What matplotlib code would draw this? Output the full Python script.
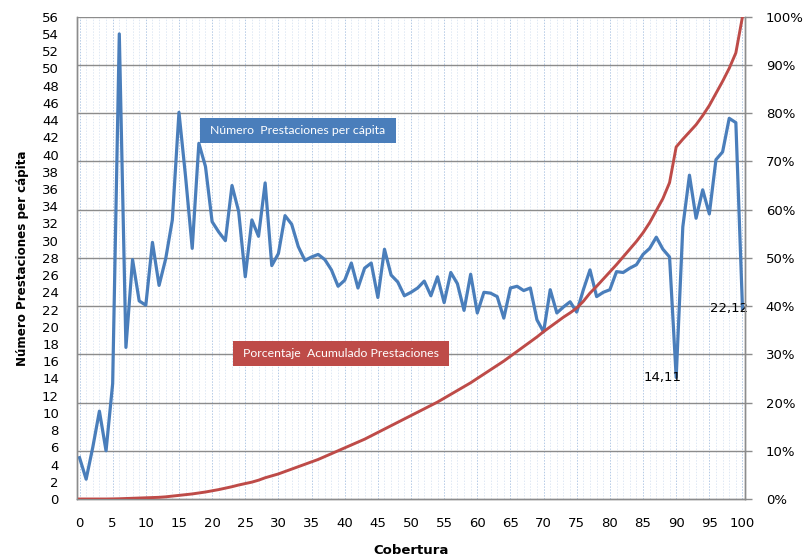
import matplotlib
matplotlib.use("Agg")
import matplotlib.pyplot as plt
from matplotlib.patches import Rectangle
from matplotlib.ticker import FuncFormatter, MultipleLocator
import numpy as np

cobertura = np.arange(0, 101)

prestaciones_per_capita = [
    4.8, 2.3, 6.0, 10.2, 5.6, 13.4, 54.0, 17.6, 27.8, 23.0,
    22.5, 29.8, 24.8, 27.9, 32.4, 44.9, 37.4, 29.1, 41.3, 38.6,
    32.2, 31.0, 30.0, 36.4, 33.4, 25.8, 32.4, 30.5, 36.7, 27.1,
    28.5, 32.9, 31.9, 29.3, 27.7, 28.1, 28.4, 27.8, 26.6, 24.7,
    25.4, 27.4, 24.5, 26.8, 27.4, 23.4, 29.0, 26.0, 25.2, 23.6,
    24.0, 24.5, 25.3, 23.6, 25.8, 22.8, 26.3, 25.0, 21.9, 26.1,
    21.6, 24.0, 23.9, 23.5, 21.0, 24.5, 24.7, 24.2, 24.5, 20.8,
    19.4, 24.3, 21.6, 22.3, 22.9, 21.7, 24.3, 26.6, 23.5, 24.0,
    24.3, 26.4, 26.3, 26.8, 27.2, 28.4, 29.1, 30.4, 29.0, 28.1,
    14.11, 31.6, 37.6, 32.6, 35.9, 33.1, 39.4, 40.3, 44.2, 43.7,
    22.12,
]

porcentaje_acumulado = [
    0.0, 0.0, 0.0, 0.0, 0.0, 0.02, 0.05, 0.1, 0.15, 0.2,
    0.25, 0.3, 0.35, 0.45, 0.6, 0.75, 0.9, 1.05, 1.25, 1.45,
    1.7, 1.95, 2.25, 2.55, 2.9, 3.2, 3.5, 3.9, 4.4, 4.8,
    5.2, 5.7, 6.2, 6.7, 7.2, 7.7, 8.2, 8.8, 9.4, 10.0,
    10.6, 11.2, 11.8, 12.4, 13.1, 13.8, 14.5, 15.2, 15.9, 16.6,
    17.3, 18.0, 18.7, 19.4, 20.1, 20.9, 21.7, 22.5, 23.3, 24.1,
    25.0, 25.9, 26.8, 27.7, 28.6, 29.6, 30.6, 31.6, 32.6, 33.6,
    34.7, 35.7, 36.7, 37.7, 38.6, 39.6, 41.0, 42.7, 44.1, 45.6,
    47.1, 48.6, 50.2, 51.8, 53.4, 55.2, 57.3, 59.8, 62.3, 65.6,
    73.0, 74.6, 76.1, 77.6, 79.5, 81.6, 84.1, 86.6, 89.3, 92.5,
    100.0,
]

etiquetas_datos = {90: "14,11", 100: "22,12"}

W, H = 808, 560
fig = plt.figure(figsize=(W / 100, H / 100), dpi=100)
L, R, T, B = 77, 745, 16.7, 499
ax = fig.add_axes([L / W, (H - B) / H, (R - L) / W, (B - T) / H])
ax2 = ax.twinx()

BLUE = "#4a7ebb"
RED = "#be4b48"
GRID = "#8c8c8c"
SPINE = "#8c8c8c"

ax.set_xlim(-0.38, 100.38)
ax.set_ylim(0, 56)
ax2.set_ylim(0, 1)

# vertical grid lines (minor every 1, major every 5)
ax.xaxis.set_major_locator(MultipleLocator(5))
ax.xaxis.set_minor_locator(MultipleLocator(1))
ax.grid(which="minor", axis="x", color="#dfe8f4", linestyle=(0, (1.5, 1.5)), linewidth=0.7)
ax.grid(which="major", axis="x", color="#b4cae6", linestyle=(0, (1.5, 1.5)), linewidth=0.7)
ax.set_axisbelow(True)

# horizontal grid lines at the secondary-axis 10% steps, drawn on primary axes
for v in np.arange(0.1, 1.01, 0.1):
    ax.axhline(v * 56, color=GRID, linewidth=1.0, zorder=1.5)

ax.plot(cobertura, prestaciones_per_capita, color=BLUE, linewidth=2.3, zorder=3)
ax2.plot(cobertura, np.array(porcentaje_acumulado) / 100.0, color=RED, linewidth=2.1,
         zorder=3)

ax.yaxis.set_major_locator(MultipleLocator(2))
ax2.yaxis.set_major_locator(MultipleLocator(0.1))
ax2.yaxis.set_major_formatter(FuncFormatter(lambda v, p: f"{int(round(v * 100))}%"))

ax.tick_params(axis="x", which="both", length=0, pad=13, labelsize=9.5, colors="black")
ax.tick_params(axis="y", length=0, pad=13, labelsize=9.5)
ax2.tick_params(axis="y", length=5, width=1, color=GRID, pad=10, labelsize=9.5,
                direction="out")

for a in (ax, ax2):
    for s in a.spines.values():
        s.set_color(SPINE)
        s.set_linewidth(1.0)
ax2.spines["top"].set_visible(False)
ax.spines["top"].set_visible(False)

ax.set_xlabel("Cobertura", fontsize=9.5, fontweight="bold", labelpad=10)
ax.set_ylabel("Número Prestaciones per cápita", fontsize=8.6, fontweight="bold",
              labelpad=9)

# data labels
for k, txt in etiquetas_datos.items():
    ax.annotate(txt, (cobertura[k], prestaciones_per_capita[k]), xytext=(-10, 0),
                textcoords="offset points", ha="center", va="center",
                fontsize=9.5, zorder=5)

# series name boxes
def box(x0, y0, x1, y1, color, text):
    rect = Rectangle((x0 / W, 1 - y1 / H), (x1 - x0) / W, (y1 - y0) / H,
                     transform=fig.transFigure, facecolor=color, edgecolor="none",
                     zorder=10)
    fig.patches.append(rect)
    fig.text((x0 + x1) / 2 / W, 1 - (y0 + y1) / 2 / H, text, color="white",
             ha="center", va="center", fontsize=8.8, family="Lato", zorder=11)

box(200, 118.3, 395.7, 143.3, BLUE, "Número  Prestaciones per cápita")
box(232.7, 341, 449.3, 366, RED, "Porcentaje  Acumulado Prestaciones")

fig.savefig("out.png", dpi=100)
